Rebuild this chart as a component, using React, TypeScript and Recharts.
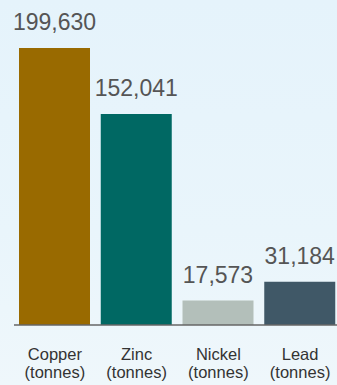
import React from "react";
import { BarChart, Bar, XAxis, YAxis, Cell, LabelList } from "recharts";

const categories = ["Copper", "Zinc", "Nickel", "Lead"];
const unitLabel = "(tonnes)";
const values = [199630, 152041, 17573, 31184];
const colors = ["#996a00", "#006863", "#b3bfba", "#405867"];

const data = categories.map((name, i) => ({ name, value: values[i] }));

const Tick = (props: any) => {
  const { x, y, payload } = props;
  return (
    <text x={x} y={y} textAnchor="middle" fill="#333" fontSize={16.5} fontFamily="Liberation Sans, Arial, sans-serif">
      <tspan x={x} dy={35}>{payload.value}</tspan>
      <tspan x={x} dy={18}>{unitLabel}</tspan>
    </text>
  );
};

export default function App() {
  return (
    <div
      style={{
        position: "absolute",
        left: 0,
        top: 0,
        width: 337,
        height: 385,
        overflow: "hidden",
        background: "linear-gradient(180deg, #e5f3fb 0%, #e9f5fb 60%, #eff7fb 100%)",
      }}
    >
      <BarChart
        width={341}
        height={385}
        data={data}
        margin={{ top: 48, right: 0, bottom: 0, left: 14 }}
        barCategoryGap={0}
        barSize={71}
      >
        <XAxis
          dataKey="name"
          height={60}
          tickLine={false}
          tickSize={0}
          tickMargin={0}
          axisLine={{ stroke: "#666", strokeWidth: 1.5 }}
          tick={<Tick />}
          interval={0}
        />
        <YAxis hide domain={[0, 199630]} />
        <Bar dataKey="value" isAnimationActive={false}>
          {data.map((d, i) => (
            <Cell key={d.name} fill={colors[i]} />
          ))}
          <LabelList
            dataKey="value"
            position="top"
            offset={18}
            fill="#555"
            fontSize={23}
            fontFamily="Liberation Sans, Arial, sans-serif"
            formatter={(v: any) => Number(v).toLocaleString("en-US")}
          />
        </Bar>
      </BarChart>
    </div>
  );
}
